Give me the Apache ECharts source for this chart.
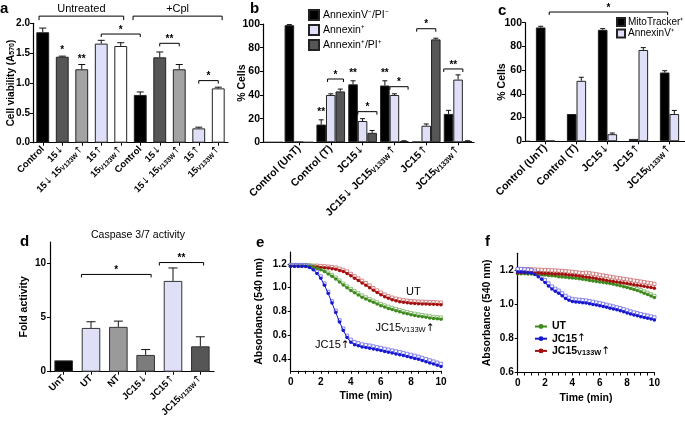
<!DOCTYPE html>
<html><head><meta charset="utf-8">
<script src="https://cdn.jsdelivr.net/npm/echarts@6/dist/echarts.min.js"></script>
<style>html,body{margin:0;padding:0;background:#fff}#c{width:685px;height:423px}</style>
</head><body><div id="c"></div>
<script>
// ---------- DATA ----------
const aCats = ['Control','15↓','15↓ 15V133W↑','15↑','15V133W↑','Control','15↓','15↓ 15V133W↑','15↑','15V133W↑'];
const aVals = [1.85,1.44,1.23,1.66,1.62,0.80,1.43,1.23,0.24,0.91];
const aErr  = [0.07,0.01,0.08,0.055,0.055,0.05,0.09,0.08,0.02,0.02];
const aMarks = [[0,-0.19,4,0.15,2.12,2],[5,-0.37,9,0.2,2.12,2],[3,0,5,0,1.82,1],[6,0,7,0,1.665,1],[8,0,9,0,1.04,1],[1,0,1,0,1.46,0],[2,0,2,0,1.32,0]];
const aMarkText = ['Untreated','+Cpl','*','**','*','*','**'];

const bCats = ['Control (UnT)','Control (T)','JC15↓','JC15↓ JC15V133W↑','JC15↑','JC15V133W↑'];
const bNames = ['AnnexinV⁻/PI⁻','Annexin⁺','Annexin⁺/PI⁺'];
const bNeg = [99,15,49,48,0.5,24];
const bNegErr = [0.5,4,3,4,0,3];
const bAnn = [0.5,40,18,40,14,53];
const bAnnErr = [0,1,2,1,1.5,4];
const bPI = [0,43,8,1,87,1];
const bPIErr = [0,2,2,0.3,1,0.3];
const bMarks = [[1,-0.1,1,0.4,53.5,1],[2,-0.15,2,0.45,25.9,1],[3,-0.14,3,0.43,47,1],[4,-0.3,4,0.3,96,1],[5,-0.45,5,0.15,62,1],[1,-0.3,1,-0.3,21,0],[2,-0.3,2,-0.3,54,0],[3,-0.3,3,-0.3,54,0]];
const bMarkText = ['*','*','*','*','**','**','**','**'];

const cCats = ['Control (UnT)','Control (T)','JC15↓','JC15↑','JC15V133W↑'];
const cNames = ['MitoTracker⁺','AnnexinV⁺'];
const cMito = [96,23,94,2,58];
const cMitoErr = [1,0,1,0,1.5];
const cAnnex = [0.5,51,6,77,23];
const cAnnexErr = [0,3,1,2,3];
const cMarks = [[0,0.12,4,-0.06,109,1]];
const cMarkText = ['*'];

const dCats = ['UnT','UT','NT','JC15↓','JC15↑','JC15V133W↑'];
const dVals = [1.05,4.05,4.15,1.55,8.4,2.35];
const dErr  = [0,0.57,0.53,0.5,1.2,0.88];
const dMarks = [[1,-0.35,3,0.2,9.0,1],[4,-0.5,5,0.12,10.1,1]];
const dMarkText = ['*','**'];

const times = [0,0.25,0.5,0.75,1,1.25,1.5,1.75,2,2.25,2.5,2.75,3,3.25,3.5,3.75,4,4.25,4.5,4.75,5,5.25,5.5,5.75,6,6.25,6.5,6.75,7,7.25,7.5,7.75,8,8.25,8.5,8.75,9,9.25,9.5,9.75,10];
const eUT = [1.18,1.18,1.18,1.18,1.178,1.176,1.175,1.173,1.17,1.168,1.165,1.16,1.155,1.145,1.135,1.12,1.10,1.08,1.06,1.04,1.02,1.0,0.978,0.958,0.94,0.924,0.91,0.898,0.889,0.882,0.876,0.872,0.868,0.866,0.864,0.863,0.862,0.861,0.86,0.858,0.856];
const eUTErr = [0.01,0.01,0.01,0.01,0.01,0.01,0.01,0.012,0.012,0.012,0.012,0.014,0.014,0.015,0.015,0.016,0.016,0.016,0.017,0.017,0.018,0.018,0.018,0.018,0.018,0.018,0.018,0.018,0.018,0.018,0.018,0.018,0.018,0.018,0.018,0.018,0.018,0.018,0.018,0.018,0.018];
const eV133W = [1.18,1.18,1.18,1.18,1.18,1.18,1.17,1.162,1.15,1.135,1.115,1.095,1.073,1.048,1.022,0.998,0.975,0.956,0.938,0.92,0.904,0.889,0.876,0.862,0.848,0.836,0.825,0.815,0.806,0.796,0.787,0.779,0.772,0.766,0.76,0.755,0.75,0.745,0.74,0.737,0.734];
const eV133WErr = [0.01,0.01,0.01,0.01,0.01,0.01,0.01,0.01,0.012,0.012,0.012,0.012,0.012,0.012,0.012,0.012,0.014,0.014,0.014,0.014,0.014,0.014,0.014,0.014,0.014,0.014,0.014,0.014,0.014,0.014,0.014,0.014,0.014,0.014,0.014,0.014,0.014,0.014,0.014,0.014,0.014];
const eJC15 = [1.18,1.18,1.18,1.18,1.18,1.17,1.15,1.12,1.08,1.02,0.95,0.87,0.79,0.71,0.64,0.58,0.54,0.52,0.51,0.50,0.495,0.49,0.483,0.476,0.47,0.463,0.456,0.449,0.442,0.435,0.428,0.42,0.412,0.404,0.396,0.386,0.376,0.366,0.356,0.346,0.336];
const eJC15Err = [0.01,0.01,0.01,0.01,0.01,0.01,0.015,0.015,0.015,0.015,0.015,0.015,0.015,0.015,0.015,0.015,0.022,0.022,0.022,0.022,0.022,0.022,0.022,0.022,0.022,0.022,0.022,0.022,0.022,0.022,0.022,0.022,0.022,0.022,0.022,0.022,0.022,0.022,0.022,0.022,0.022];
const eLabels = [[8.16,0.961],[7.6,0.658],[2.77,0.518]];
const eLabelText = ['UT','JC15V133W↑','JC15↑'];

const fNames = ['UT','JC15↑','JC15V133W↑'];
const fUT = [1.18,1.18,1.18,1.179,1.178,1.177,1.175,1.174,1.172,1.17,1.168,1.166,1.163,1.161,1.159,1.157,1.155,1.153,1.15,1.147,1.144,1.141,1.138,1.135,1.132,1.129,1.125,1.122,1.118,1.114,1.109,1.104,1.099,1.093,1.087,1.081,1.074,1.066,1.058,1.049,1.04];
const fUTErr = [0.008,0.008,0.008,0.008,0.008,0.008,0.008,0.008,0.008,0.008,0.008,0.008,0.008,0.008,0.008,0.008,0.008,0.008,0.008,0.008,0.01,0.01,0.01,0.01,0.01,0.01,0.01,0.01,0.01,0.01,0.01,0.01,0.01,0.01,0.01,0.01,0.01,0.01,0.01,0.01,0.01];
const fJC15 = [1.19,1.19,1.188,1.186,1.184,1.175,1.163,1.147,1.128,1.108,1.09,1.077,1.066,1.05,1.035,1.024,1.017,1.014,1.012,1.01,1.008,1.004,1.0,0.996,0.992,0.988,0.983,0.978,0.973,0.968,0.963,0.957,0.95,0.944,0.938,0.933,0.928,0.923,0.919,0.914,0.909];
const fJC15Err = [0.018,0.018,0.018,0.018,0.018,0.018,0.018,0.018,0.015,0.015,0.015,0.015,0.015,0.015,0.015,0.015,0.015,0.015,0.015,0.015,0.015,0.015,0.015,0.015,0.015,0.015,0.015,0.015,0.015,0.015,0.015,0.015,0.015,0.015,0.015,0.015,0.015,0.015,0.015,0.015,0.015];
const fV133W = [1.185,1.186,1.187,1.187,1.186,1.185,1.184,1.183,1.182,1.181,1.18,1.179,1.178,1.177,1.175,1.173,1.171,1.169,1.166,1.164,1.161,1.158,1.155,1.152,1.148,1.145,1.141,1.138,1.134,1.131,1.128,1.125,1.122,1.119,1.115,1.112,1.109,1.106,1.102,1.099,1.095];
const fV133WErr = [0.02,0.02,0.02,0.02,0.02,0.02,0.02,0.02,0.02,0.02,0.02,0.02,0.02,0.02,0.02,0.02,0.02,0.02,0.02,0.02,0.025,0.025,0.025,0.025,0.025,0.025,0.025,0.025,0.025,0.025,0.025,0.025,0.025,0.025,0.025,0.025,0.025,0.025,0.025,0.025,0.025];

// ---------- STYLE ----------
const FONT = '"Liberation Sans", Arial, sans-serif';
const BLACK = '#000', DGRAY = '#565656', MGRAY = '#a3a3a3', LAV = '#dfe0f7', WHITE = '#ffffff', NGRAY = '#9a9a9a', JGRAY = '#7c7c7c';
const aPalette = [BLACK, DGRAY, MGRAY, LAV, WHITE, BLACK, DGRAY, MGRAY, LAV, WHITE];
const dPalette = [BLACK, LAV, NGRAY, JGRAY, LAV, DGRAY];
const RED = '#a3100f', GREEN = '#3f8a1e', BLUE = '#1717cf';

function sub(s){ return s.replace('V133W','{s|V133W}').replace(/([↑↓])/g,'{r|$1}'); }
const subRich = (fs, w) => ({
  s:{fontSize:fs*0.7, fontWeight:w||'bold', fontFamily:FONT, color:'#000', verticalAlign:'bottom', lineHeight:fs},
  r:{fontSize:fs, fontWeight:'normal', fontFamily:'"DejaVu Sans"', color:'#000', lineHeight:fs}
});
const axLine = {show:true, lineStyle:{color:'#000', width:1.2}};
const axTick = {show:true, length:3, lineStyle:{color:'#000', width:1}};
const lab = fs => ({color:'#000', fontFamily:FONT, fontWeight:'bold', fontSize:fs});

function catX(gi, cats, fs){
  return {gridIndex:gi, type:'category', data:cats, axisLine:axLine, axisTick:Object.assign({alignWithLabel:true}, axTick),
    axisLabel:Object.assign(lab(fs), {rotate:45, interval:0, margin:5, formatter:sub, rich:subRich(fs)}), splitLine:{show:false}};
}
function valY(gi, o){
  return Object.assign({gridIndex:gi, type:'value', axisLine:axLine, axisTick:axTick,
    axisLabel:Object.assign(lab(10), {margin:3}), splitLine:{show:false}, nameMoveOverlap:false,
    nameLocation:'middle', nameTextStyle:lab(10.5)}, o);
}
function errBar(gi, vals, errs, nBars, idx, frac, hw){
  return {type:'custom', xAxisIndex:gi, yAxisIndex:gi, clip:false, z:6, silent:true,
    data: vals.map((v,i)=>[i, v, errs[i]]),
    renderItem:(params, api)=>{
      const e = api.value(2);
      const band = api.size([1,0])[0];
      const p = api.coord([api.value(0), api.value(1)]);
      const q = api.coord([api.value(0), api.value(1)+e]);
      const x = p[0] + (idx-(nBars-1)/2)*frac*band;
      if (!e) return {type:'group', children:[]};
      return {type:'group', children:[
        {type:'line', shape:{x1:x,y1:p[1],x2:x,y2:q[1]}, style:{stroke:'#111', lineWidth:1}},
        {type:'line', shape:{x1:x-hw,y1:q[1],x2:x+hw,y2:q[1]}, style:{stroke:'#111', lineWidth:1}}]};
    }};
}
function marks(gi, data, texts){
  return {type:'custom', xAxisIndex:gi, yAxisIndex:gi, clip:false, z:7, silent:true,
    data: data,
    renderItem:(params, api)=>{
      const band = api.size([1,0])[0];
      const p1 = api.coord([api.value(0), api.value(4)]);
      const p2 = api.coord([api.value(2), api.value(4)]);
      const x1 = p1[0]+api.value(1)*band, x2 = p2[0]+api.value(3)*band, y = p1[1];
      const kind = api.value(5);
      const ch = [];
      if (kind > 0) {
        const d = kind === 2 ? 4 : 3;
        ch.push({type:'polyline', shape:{points:[[x1,y+d],[x1,y],[x2,y],[x2,y+d]]}, style:{stroke:'#000', lineWidth:1, fill:null}});
      }
      const big = kind === 2;
      ch.push({type:'text', x:(x1+x2)/2, y: big ? y-2 : y+ (kind===0?0:1), style:{text:texts[params.dataIndex], textAlign:'center', textVerticalAlign:'bottom',
        fontFamily:FONT, fontSize: big ? 11 : 10, fontWeight: big ? 'normal' : 'bold', fill:'#000'}});
      return {type:'group', children:ch};
    }};
}
function barS(gi, name, vals, color, width, gap){
  return {type:'bar', name, xAxisIndex:gi, yAxisIndex:gi, data:vals, barWidth:width, barGap:gap,
    itemStyle:{color, borderColor:'#222', borderWidth:1}, z:3};
}
function lineS(gi, name, vals, color){
  return {type:'line', name, xAxisIndex:gi, yAxisIndex:gi, data:times.map((t,i)=>[t, vals[i]]),
    symbol:'circle', symbolSize:3.5, lineStyle:{color, width:1}, itemStyle:{color}, z:4};
}
function lineErr(gi, vals, errs, color){
  return {type:'custom', xAxisIndex:gi, yAxisIndex:gi, silent:true, z:3,
    data:times.map((t,i)=>[t, vals[i], errs[i]]),
    renderItem:(params, api)=>{
      const p = api.coord([api.value(0), api.value(1)]);
      const q = api.coord([api.value(0), api.value(1)+api.value(2)]);
      return {type:'group', children:[
        {type:'line', shape:{x1:p[0],y1:p[1],x2:q[0],y2:q[1]}, style:{stroke:color, lineWidth:0.7}},
        {type:'rect', shape:{x:q[0]-1.6,y:q[1]-1.6,width:3.2,height:3.2}, style:{fill:'#fff', stroke:color, lineWidth:0.7}}]};
    }};
}
const eTxtRich = {
  s:{fontSize:7.5, fontFamily:FONT, fill:'#000', verticalAlign:'bottom', lineHeight:11},
  r:{fontSize:10.5, fontFamily:'"DejaVu Sans"', fill:'#000', lineHeight:11}
};

const series = [
  Object.assign(barS(0, 'a', aVals, null, '66%', '0%'), {itemStyle:{color:p=>aPalette[p.dataIndex], borderColor:'#222', borderWidth:1}}),
  errBar(0, aVals, aErr, 1, 0, 0, 3.5),
  marks(0, aMarks, aMarkText),
  barS(1, bNames[0], bNeg, BLACK, '30%', '0%'),
  barS(1, bNames[1], bAnn, LAV, '30%', '0%'),
  barS(1, bNames[2], bPI, DGRAY, '30%', '0%'),
  errBar(1, bNeg, bNegErr, 3, 0, 0.3, 2.5),
  errBar(1, bAnn, bAnnErr, 3, 1, 0.3, 2.5),
  errBar(1, bPI, bPIErr, 3, 2, 0.3, 2.5),
  marks(1, bMarks, bMarkText),
  barS(2, cNames[0], cMito, BLACK, '31%', '0%'),
  barS(2, cNames[1], cAnnex, LAV, '31%', '0%'),
  errBar(2, cMito, cMitoErr, 2, 0, 0.31, 2.5),
  errBar(2, cAnnex, cAnnexErr, 2, 1, 0.31, 2.5),
  marks(2, cMarks, cMarkText),
  Object.assign(barS(3, 'd', dVals, null, '68%', '0%'), {itemStyle:{color:p=>dPalette[p.dataIndex], borderColor:'#333', borderWidth:1}}),
  errBar(3, dVals, dErr, 1, 0, 0, 4.5),
  marks(3, dMarks, dMarkText),
  lineErr(4, eUT, eUTErr, '#c45a5a'),
  lineErr(4, eV133W, eV133WErr, '#6aa84f'),
  lineErr(4, eJC15, eJC15Err, '#5a5ae6'),
  lineS(4, 'e-UT', eUT, RED),
  lineS(4, 'e-V133W', eV133W, GREEN),
  lineS(4, 'e-JC15', eJC15, BLUE),
  {type:'custom', xAxisIndex:4, yAxisIndex:4, silent:true, z:8, data:eLabels,
    renderItem:(params, api)=>{
      const p = api.coord([api.value(0), api.value(1)]);
      return {type:'text', x:p[0], y:p[1], style:{text:sub(eLabelText[params.dataIndex]), rich:eTxtRich,
        textAlign:'center', textVerticalAlign:'middle', fontFamily:FONT, fontSize:11, fill:'#000'}};
    }},
  lineErr(5, fUT, fUTErr, '#6aa84f'),
  lineErr(5, fV133W, fV133WErr, '#c45a5a'),
  lineErr(5, fJC15, fJC15Err, '#5a5ae6'),
  lineS(5, 'f-' + fNames[0], fUT, GREEN),
  lineS(5, 'f-' + fNames[2], fV133W, RED),
  lineS(5, 'f-' + fNames[1], fJC15, BLUE)
];

const titleSt = {fontFamily:FONT, fontSize:15, fontWeight:'bold', color:'#000'};
const option = {
  animation:false,
  backgroundColor:'#fff',
  textStyle:{fontFamily:FONT},
  title:[
    {text:'a', left:0, top:1, padding:0, textStyle:titleSt},
    {text:'b', left:250, top:1, padding:0, textStyle:titleSt},
    {text:'c', left:498, top:3, padding:0, textStyle:titleSt},
    {text:'d', left:20, top:234, padding:0, textStyle:titleSt},
    {text:'e', left:256, top:235, padding:0, textStyle:titleSt},
    {text:'f', left:485, top:234, padding:0, textStyle:titleSt},
    {text:'Caspase 3/7 activity', left:91, top:230, padding:0, textStyle:{fontFamily:FONT, fontSize:10.5, fontWeight:'normal', color:'#000'}}
  ],
  legend:[
    {data:bNames, orient:'vertical', left:308, top:9, padding:0, icon:'rect', itemWidth:10, itemHeight:10, itemGap:3,
      textStyle:{fontFamily:FONT, fontSize:10.5, color:'#000', lineHeight:12, padding:[0,0,0,-1]}, selectedMode:false},
    {data:cNames, orient:'vertical', left:616, top:17, padding:0, icon:'rect', itemWidth:8, itemHeight:8, itemGap:1.5,
      textStyle:{fontFamily:FONT, fontSize:10, color:'#000', lineHeight:9, padding:[0,0,0,-2]}, selectedMode:false},
    {data:fNames.map(n=>'f-'+n), orient:'vertical', left:534, top:321, padding:0, itemWidth:12, itemHeight:6, itemGap:1.2,
      formatter:n=>sub(n.slice(2)), selectedMode:false,
      textStyle:{fontFamily:FONT, fontSize:10.5, fontWeight:'bold', color:'#000', lineHeight:11, rich:subRich(10.5)}}
  ],
  grid:[
    {left:33, top:23.3, width:195, height:119.4},
    {left:283, top:24, width:191, height:118.3},
    {left:530, top:22.7, width:161, height:118.6},
    {left:50, top:242, width:164, height:129.7},
    {left:290.7, top:252, width:150.3, height:118.75},
    {left:517.7, top:253.3, width:136.7, height:119.2}
  ],
  xAxis:[
    catX(0, aCats, 9.5),
    catX(1, bCats, 10.5),
    catX(2, cCats, 10.5),
    catX(3, dCats, 9.5),
    {gridIndex:4, type:'value', min:0, max:10, interval:2, axisLine:axLine, axisTick:axTick,
      minorTick:{show:true, splitNumber:4, length:3, lineStyle:{color:'#000', width:1}}, minorSplitLine:{show:false},
      axisLabel:Object.assign(lab(10), {margin:6}), splitLine:{show:false},
      name:'Time (min)', nameLocation:'middle', nameGap:20, nameTextStyle:lab(10.5)},
    {gridIndex:5, type:'value', min:0, max:10, interval:2, axisLine:axLine, axisTick:axTick,
      minorTick:{show:true, splitNumber:4, length:3, lineStyle:{color:'#000', width:1}}, minorSplitLine:{show:false},
      axisLabel:Object.assign(lab(10), {margin:6}), splitLine:{show:false},
      name:'Time (min)', nameLocation:'middle', nameGap:20, nameTextStyle:lab(10.5)}
  ],
  yAxis:[
    valY(0, {min:0, max:2, interval:0.5, axisLabel:Object.assign(lab(10), {margin:3, formatter:v=>v.toFixed(1)}),
      name:'Cell viability (A{s|570})', nameGap:17, nameTextStyle:Object.assign(lab(10), {rich:subRich(10)})}),
    valY(1, {min:0, max:100, interval:20, offset:20, axisLabel:Object.assign(lab(10.5), {margin:3}), name:'% Cells', nameGap:15}),
    valY(2, {min:0, max:100, interval:20, offset:5, axisLabel:Object.assign(lab(10.5), {margin:3}), name:'% Cells', nameGap:17}),
    valY(3, {min:0, max:12, axisLabel:Object.assign(lab(10), {margin:4, customValues:[0,5,10]}),
      axisTick:Object.assign({customValues:[0,5,10]}, axTick), name:'Fold activity', nameGap:20}),
    valY(4, {min:0.3, max:1.3, axisLabel:Object.assign(lab(10), {margin:4, customValues:[0.4,0.6,0.8,1.0,1.2], formatter:v=>v.toFixed(1)}),
      axisTick:Object.assign({customValues:[0.4,0.6,0.8,1.0,1.2]}, axTick), name:'Absorbance (540 nm)', nameGap:26, nameTextStyle:lab(10.5)}),
    valY(5, {min:0.6, max:1.3, axisLabel:Object.assign(lab(10), {margin:4, customValues:[0.6,0.8,1.0,1.2], formatter:v=>v.toFixed(1)}),
      axisTick:Object.assign({customValues:[0.6,0.8,1.0,1.2]}, axTick), name:'Absorbance (540 nm)', nameGap:25, nameTextStyle:lab(10.5)})
  ],
  graphic:[
    {type:'line', shape:{x1:263, y1:142.3, x2:283, y2:142.3}, style:{stroke:'#000', lineWidth:1.2}},
    {type:'line', shape:{x1:525, y1:141.3, x2:530, y2:141.3}, style:{stroke:'#000', lineWidth:1.2}}
  ],
  series
};
const chart = echarts.init(document.getElementById('c'), null, {renderer:'canvas'});
chart.setOption(option);
</script></body></html>
